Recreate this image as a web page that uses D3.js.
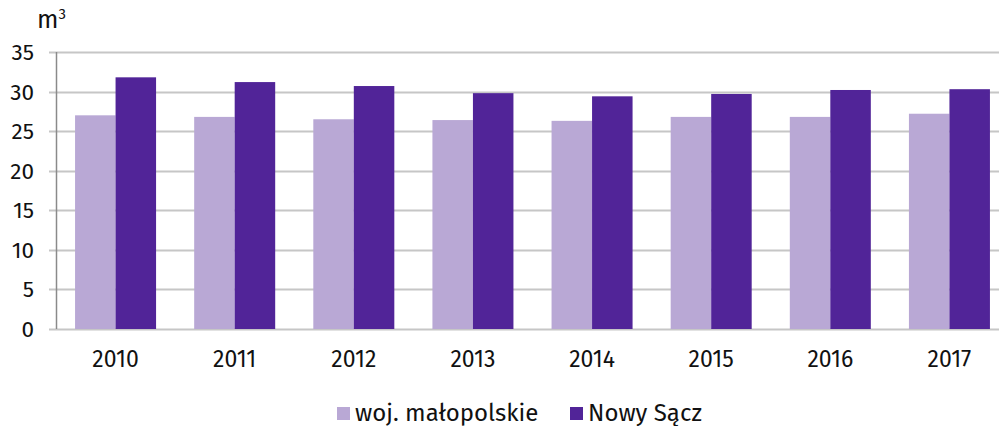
<!DOCTYPE html>
<html>
<head>
<meta charset="utf-8">
<script src="https://cdn.jsdelivr.net/npm/d3@7"></script>
<style>
  body { margin: 0; background: #fff; }
  text { font-family: "Fira Sans", "Noto Sans", sans-serif; fill: #111; }
</style>
</head>
<body>
<svg id="chart" width="999" height="426"></svg>
<script>
const years = ['2010', '2011', '2012', '2013', '2014', '2015', '2016', '2017'];
const malopolskie = [27.0, 26.8, 26.5, 26.4, 26.3, 26.8, 26.8, 27.2];
const nowySacz = [31.8, 31.2, 30.7, 29.8, 29.4, 29.7, 30.2, 30.3];
const yTicks = [0, 5, 10, 15, 20, 25, 30, 35];
const seriesNames = ['woj. małopolskie', 'Nowy Sącz'];
const colors = ['#b9a8d5', '#512498'];

const svg = d3.select('#chart');
// the plot runs a little past the right edge of the picture
const margin = {left: 56, right: -10, top: 52, bottom: 97};
const width = 999 - margin.left - margin.right;
const height = 426 - margin.top - margin.bottom;

const x = d3.scaleBand().domain(years).range([0, width]).paddingInner(0.32).paddingOuter(0.16);
const x1 = d3.scaleBand().domain([0, 1]).range([0, x.bandwidth()]);
const y = d3.scaleLinear().domain([0, 35]).range([height, 0]);

const g = svg.append('g').attr('transform', `translate(${margin.left},${margin.top})`);

// grid lines
g.selectAll('.grid').data(yTicks).enter().append('line')
  .attr('class', 'grid')
  .attr('x1', -7).attr('x2', width)
  .attr('y1', d => Math.round(y(d)) + 0.5).attr('y2', d => Math.round(y(d)) + 0.5)
  .attr('stroke', '#c6c6c6').attr('stroke-width', 2);

// y labels
g.selectAll('.ylab').data(yTicks).enter().append('text')
  .attr('x', -22).attr('y', d => y(d) + 8)
  .attr('text-anchor', 'end').attr('font-size', 22.5)
  .text(d => d);

// bars
const groups = g.selectAll('.yr').data(years).enter().append('g')
  .attr('transform', d => `translate(${x(d)},0)`);
groups.selectAll('rect').data((d, i) => [malopolskie[i], nowySacz[i]]).enter().append('rect')
  .attr('x', (d, j) => x1(j))
  .attr('width', x1.bandwidth())
  .attr('y', d => y(d))
  .attr('height', d => height - y(d))
  .attr('fill', (d, j) => colors[j]);

// axis line
g.append('line').attr('x1', 0.5).attr('x2', 0.5).attr('y1', 0).attr('y2', height)
  .attr('stroke', '#8a8a8a').attr('stroke-width', 1.5);

// x labels
g.selectAll('.xlab').data(years).enter().append('text')
  .attr('x', d => x(d) + x.bandwidth() / 2).attr('y', height + 38)
  .attr('text-anchor', 'middle').attr('font-size', 23)
  .text(d => d);

// unit
const unit = svg.append('text').attr('x', 37).attr('y', 28).attr('font-size', 25);
unit.append('tspan').text('m');
unit.append('tspan').attr('font-size', 15).attr('dy', -9).text('3');

// legend
const legendX = [337, 570];
const leg = svg.selectAll('.leg').data(seriesNames).enter().append('g')
  .attr('transform', (d, i) => `translate(${legendX[i]},407)`);
leg.append('rect').attr('width', 13).attr('height', 13).attr('fill', (d, i) => colors[i]);
leg.append('text').attr('x', 18).attr('y', 14).attr('font-size', 24).text(d => d);
</script>
</body>
</html>
